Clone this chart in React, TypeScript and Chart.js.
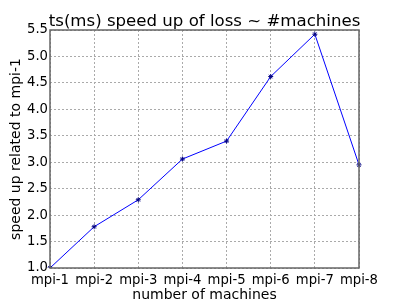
import React, { useEffect, useRef } from "react";
import { Chart, registerables } from "chart.js";

Chart.register(...registerables);

const categories = ["mpi-1", "mpi-2", "mpi-3", "mpi-4", "mpi-5", "mpi-6", "mpi-7", "mpi-8"];
const speedup = [1.0, 1.78, 2.29, 3.06, 3.4, 4.62, 5.42, 2.95];
const titleText = "ts(ms) speed up of loss ~ #machines";
const yLabel = "speed up related to mpi-1";
const xLabel = "number of machines";
const yMin = 1.0;
const yMax = 5.5;
const yStep = 0.5;

const FONT = "'DejaVu Sans', sans-serif";

const framePlugin = {
  id: "frame",
  afterDatasetsDraw(chart: any) {
    const { ctx, chartArea } = chart;
    ctx.save();
    ctx.strokeStyle = "#666666";
    ctx.lineWidth = 1.5;
    ctx.strokeRect(chartArea.left, chartArea.top, chartArea.right - chartArea.left, chartArea.bottom - chartArea.top);
    ctx.restore();
  },
  afterDraw(chart: any) {
    const { ctx, chartArea } = chart;
    ctx.save();
    ctx.fillStyle = "#000";
    ctx.font = `16.6px ${FONT}`;
    ctx.textAlign = "center";
    ctx.textBaseline = "alphabetic";
    ctx.fillText(titleText, (chartArea.left + chartArea.right) / 2, chartArea.top - 4);
    ctx.restore();
  },
};

export default function App() {
  const ref = useRef<HTMLCanvasElement>(null);
  useEffect(() => {
    if (!ref.current) return;
    const chart = new Chart(ref.current, {
      type: "line",
      data: {
        labels: categories,
        datasets: [
          {
            data: speedup,
            borderColor: "#0000ff",
            borderWidth: 1,
            backgroundColor: "#000080",
            pointStyle: "star",
            pointRadius: 2.5,
            pointBorderColor: "#000080",
            pointBorderWidth: 1,
            tension: 0,
            fill: false,
          },
        ],
      },
      options: {
        animation: false,
        responsive: true,
        maintainAspectRatio: false,
        layout: { padding: { top: 30, right: 40, bottom: 0, left: 0 } },
        plugins: { legend: { display: false }, tooltip: { enabled: false }, title: { display: false } },
        scales: {
          x: {
            type: "category",
            offset: false,
            grid: { color: "#aaaaaa", lineWidth: 1, drawTicks: false, offset: false },
            border: { display: false, dash: [2, 2] },
            ticks: { color: "#000", font: { family: FONT, size: 13.2 }, padding: 4.5, maxRotation: 0, autoSkip: false },
            title: { display: true, text: xLabel, color: "#000", font: { family: FONT, size: 14 }, padding: { top: 0, bottom: -5 } },
            afterFit(scale: any) {
              scale.height = 31;
            },
          },
          y: {
            min: yMin,
            max: yMax,
            grid: { color: "#aaaaaa", lineWidth: 1, drawTicks: false },
            border: { display: false, dash: [2, 2] },
            ticks: {
              stepSize: yStep,
              color: "#000",
              font: { family: FONT, size: 13.2 },
              padding: 2,
              callback: (v: any) => Number(v).toFixed(1),
            },
            title: { display: true, text: yLabel, color: "#000", font: { family: FONT, size: 14 }, padding: { top: 8, bottom: 0 } },
            afterFit(scale: any) {
              scale.width = 50;
            },
          },
        },
      },
      plugins: [framePlugin],
    });
    return () => chart.destroy();
  }, []);
  return (
    <div style={{ position: "absolute", left: 0, top: 0, width: 399, height: 299, background: "#fff" }}>
      <canvas ref={ref} />
    </div>
  );
}
